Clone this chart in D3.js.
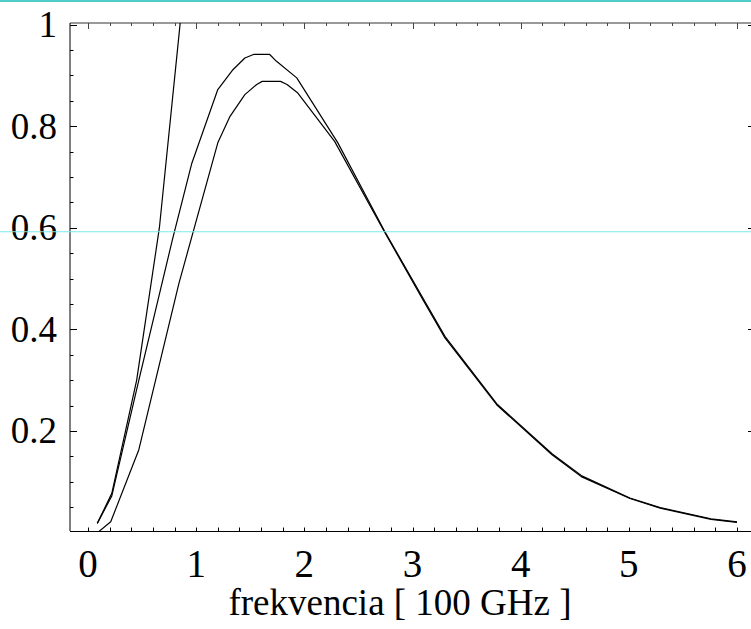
<!DOCTYPE html>
<html>
<head>
    <meta charset="UTF-8" />
    <script src="https://d3js.org/d3.v7.min.js"></script>
    <style>
        body { margin: 0; background: #fff; }
        svg { display: block; }
    </style>
</head>
<body>
    <div id="chart"></div>
    <script>
        // values
        const planck = [
            [0.086, 0.018], [0.22, 0.072], [0.47, 0.30], [0.78, 0.576], [0.96, 0.727],
            [1.20, 0.872], [1.34, 0.911], [1.45, 0.934], [1.53, 0.941], [1.68, 0.941],
            [1.74, 0.928], [1.93, 0.895], [2.31, 0.767], [2.74, 0.594], [3.10, 0.460],
            [3.30, 0.386], [3.78, 0.253], [4.29, 0.155], [4.56, 0.112], [5.01, 0.068],
            [5.29, 0.049], [5.76, 0.027], [6.0, 0.021]
        ];
        const wien = [
            [0.09, 0.0], [0.21, 0.021], [0.47, 0.163], [0.84, 0.49], [1.20, 0.767],
            [1.31, 0.818], [1.45, 0.862], [1.56, 0.882], [1.61, 0.888], [1.78, 0.888],
            [1.84, 0.882], [1.94, 0.865], [2.28, 0.770], [2.74, 0.592], [3.10, 0.457],
            [3.30, 0.383], [3.78, 0.251], [4.29, 0.153], [4.56, 0.110], [5.01, 0.067],
            [5.29, 0.048], [5.76, 0.026], [6.0, 0.020]
        ];
        const rayleigh = [
            [0.086, 0.018], [0.22, 0.077], [0.45, 0.30], [0.66, 0.60], [0.87, 1.04]
        ];
        const xMajor = [0, 1, 2, 3, 4, 5, 6];
        const yMajor = [0.2, 0.4, 0.6, 0.8, 1];
        const yMajorLabels = ["0.2", "0.4", "0.6", "0.8", "1"];
        const guideValue = 0.592;
        const xLabel = "frekvencia [ 100 GHz ]";

        const width = 751;
        const height = 629;
        const frameLeft = 70;
        const frameRight = 755;
        const frameTop = 23;
        const frameBottom = 531;

        const x = d3.scaleLinear().domain([0, 6]).range([88, 737]);
        const y = d3.scaleLinear().domain([0, 1]).range([532.5, 24.5]);

        const xMinor = d3.range(-0.2, 6.21, 0.2).map(v => +v.toFixed(2))
            .filter(v => x(v) > frameLeft + 1 && x(v) < frameRight);
        const yMinor = d3.range(0.05, 1.0, 0.05).map(v => +v.toFixed(2))
            .filter(v => !yMajor.some(m => Math.abs(m - v) < 1e-6));

        const svg = d3.select("#chart").append("svg")
            .attr("width", width)
            .attr("height", height)
            .attr("font-family", "'Liberation Serif', 'Times New Roman', serif");

        svg.append("rect")
            .attr("x", 0).attr("y", 0)
            .attr("width", width).attr("height", 2)
            .attr("fill", "#4fcdc8");

        // frame
        svg.append("line")
            .attr("x1", frameLeft).attr("x2", frameRight)
            .attr("y1", frameTop).attr("y2", frameTop)
            .attr("stroke", "#777").attr("stroke-width", 1.5);
        svg.append("line")
            .attr("x1", frameLeft).attr("x2", frameLeft)
            .attr("y1", frameTop).attr("y2", frameBottom)
            .attr("stroke", "#000").attr("stroke-width", 1);
        svg.append("line")
            .attr("x1", frameRight).attr("x2", frameRight)
            .attr("y1", frameTop).attr("y2", frameBottom)
            .attr("stroke", "#000").attr("stroke-width", 1);
        svg.append("line")
            .attr("x1", frameLeft).attr("x2", frameRight)
            .attr("y1", frameBottom + 0.5).attr("y2", frameBottom + 0.5)
            .attr("stroke", "#000").attr("stroke-width", 1);

        const ticks = svg.append("g").attr("stroke", "#000").attr("stroke-width", 1);

        // bottom ticks point up
        ticks.selectAll(".bt").data(xMinor).join("line")
            .attr("x1", d => Math.round(x(d)) + 0.5).attr("x2", d => Math.round(x(d)) + 0.5)
            .attr("y1", frameBottom).attr("y2", frameBottom - 3.5);
        // top ticks point down
        ticks.selectAll(".tt").data(xMinor).join("line")
            .attr("stroke", "#444")
            .attr("x1", d => Math.round(x(d)) + 0.5).attr("x2", d => Math.round(x(d)) + 0.5)
            .attr("y1", frameTop)
            .attr("y2", d => frameTop + (xMajor.includes(d) ? 6 : 3));
        const yAll = yMinor.concat(yMajor);
        ticks.selectAll(".lt").data(yAll).join("line")
            .attr("y1", d => Math.round(y(d)) + 0.5).attr("y2", d => Math.round(y(d)) + 0.5)
            .attr("x1", frameLeft)
            .attr("x2", d => frameLeft + (yMajor.includes(d) ? 7 : 3.5));
        ticks.selectAll(".rt").data(yAll).join("line")
            .attr("y1", d => Math.round(y(d)) + 0.5).attr("y2", d => Math.round(y(d)) + 0.5)
            .attr("x1", frameRight)
            .attr("x2", d => frameRight - (yMajor.includes(d) ? 7 : 3.5));

        // tick labels
        svg.append("g").selectAll("text").data(xMajor).join("text")
            .attr("x", d => x(d))
            .attr("y", 577)
            .attr("text-anchor", "middle")
            .attr("font-size", 39)
            .text(d => d);
        svg.append("g").selectAll("text").data(yMajor).join("text")
            .attr("x", 57)
            .attr("y", d => y(d))
            .attr("dy", "0.34em")
            .attr("text-anchor", "end")
            .attr("font-size", 37)
            .text((d, i) => yMajorLabels[i]);

        svg.append("text")
            .attr("x", 400)
            .attr("y", 615)
            .attr("text-anchor", "middle")
            .attr("font-size", 37)
            .text(xLabel);

        // curves
        svg.append("clipPath").attr("id", "plotClip")
            .append("rect")
            .attr("x", frameLeft).attr("y", frameTop)
            .attr("width", frameRight - frameLeft).attr("height", frameBottom - frameTop);

        const line = d3.line().x(d => x(d[0])).y(d => y(d[1]));
        const curves = svg.append("g").attr("clip-path", "url(#plotClip)");
        [rayleigh, planck, wien].forEach(series => {
            curves.append("path")
                .datum(series)
                .attr("d", line)
                .attr("fill", "none")
                .attr("stroke", "#000")
                .attr("stroke-width", 1.2)
                .attr("stroke-linejoin", "round");
        });

        svg.append("line")
            .attr("x1", 0).attr("x2", width)
            .attr("y1", y(guideValue)).attr("y2", y(guideValue))
            .attr("stroke", "#7ee8ec").attr("stroke-width", 1);
    </script>
</body>
</html>
